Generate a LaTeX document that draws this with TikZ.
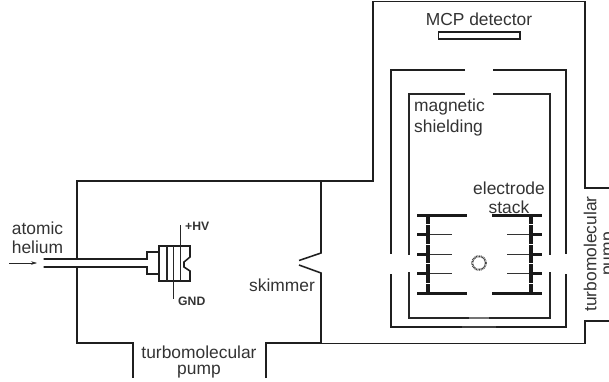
\documentclass[tikz,border=0pt]{standalone}
\usepackage{fontspec}
\usetikzlibrary{arrows.meta}
\setmainfont{Liberation Sans}
\tikzset{
  wall/.style={line width=1.55pt,color=black!88,line cap=butt,line join=miter},
  thin wall/.style={line width=1.25pt,color=black!85},
  plate/.style={line width=3pt,color=black!90},
  finger/.style={line width=0.8pt,color=black!80},
  lab/.style={font=\fontsize{17.4}{#1}\selectfont,align=center,inner sep=0pt,color=black!80},
  lab/.default=19,
  small lab/.style={font=\fontsize{12.2}{13}\selectfont\bfseries,inner sep=0pt,color=black!80},
}
\begin{document}
\begin{tikzpicture}[x=1pt,y=-1pt]
\useasboundingbox (0,0) rectangle (609,381);
% chamber
\draw[wall] (77,258.5) -- (77,181) -- (373,181) -- (373,1.5) -- (585,1.5) -- (585,188) -- (609,188);
\draw[wall] (77,267.5) -- (77,343) -- (133,343) -- (133,378);
\draw[wall] (266,378) -- (266,343) -- (321,343);
\draw[wall] (321,343.5) -- (585,343.5) -- (585,321) -- (609,321);
% skimmer
\draw[wall] (321,181) -- (321,253) -- (299,260.5);
\draw[wall] (299,265) -- (321,273) -- (321,343);
% detector
\draw[wall] (438.5,32) rectangle (520,39);
% outer shield
\draw[wall] (465,70) -- (391,70) -- (391,254);
\draw[wall] (493,70) -- (566,70) -- (566,254);
\draw[wall] (391,274) -- (391,327) -- (566,327) -- (566,274);
% inner shield
\draw[thin wall] (465,94) -- (409,94) -- (409,255);
\draw[thin wall] (493,94) -- (550,94) -- (550,255);
\draw[thin wall] (409,272) -- (409,318) -- (550,318) -- (550,272);
\draw[line width=2.2pt,color=black!75] (462,327) -- (496,327);
\draw[line width=1.8pt,color=black!55] (469,318) -- (489,318);
% electrode stack
\foreach \y in {215,293}{
  \draw[plate] (417,\y) -- (467,\y);
  \draw[plate] (492,\y) -- (542,\y);
}
\foreach \y in {234,254,273}{
  \draw[plate] (417,\y) -- (430,\y);
  \draw[finger] (430,\y) -- (452,\y);
  \draw[plate] (530,\y) -- (542,\y);
  \draw[finger] (507,\y) -- (530,\y);
}
\foreach \a/\b in {215/224,225/244,245/263,264/283,284/293}{
  \draw[line width=4.2pt,color=black!90] (428,\a) -- (428,\b);
  \draw[line width=4.2pt,color=black!90] (531,\a) -- (531,\b);
}
\draw[line width=2pt,color=black!75,dash pattern=on 0.9pt off 0.7pt] (479,263) circle (6.8);
% inlet
\draw[wall] (43.5,259) -- (147,259) -- (147,252) -- (159,252) -- (159,246) -- (190,246) -- (190,257) -- (184,262) -- (184,267) -- (190,271) -- (190,281) -- (159,281) -- (159,274) -- (147,274) -- (147,267) -- (43.5,267);
\draw[wall] (159,246) -- (159,281);
\draw[thin wall] (167,246) -- (167,281);
\draw[thin wall] (173.5,246) -- (173.5,299);
\draw[thin wall] (180.5,225) -- (180.5,281);
% arrow
\coordinate (arrowstart) at (9,263);
\coordinate (arrowend) at (37,263);
\draw[line width=0.5pt,color=black!85,-{Stealth[length=6pt,width=3.5pt]}] (arrowstart) -- (arrowend);
% labels
\node[lab=18.7] (heliumlab) at (37.5,238) {atomic\\helium};
\node[lab,anchor=base] (skimmerlab) at (282,291.7) {skimmer};
\node[lab=15.5] (pumpbottom) at (199,362) {turbomolecular\\pump};
\node[lab,anchor=base] (mcp) at (479,25) {MCP detector};
\node[lab=20.5,align=left,anchor=north west] (shield) at (414,99) {magnetic\\shielding};
\node[lab=19] (stack) at (509,198) {electrode\\stack};
\node[lab=16.5,rotate=90] (pumpright) at (600,254) {turbomolecular\\pump};
\node[small lab,anchor=west] (hv) at (185,226.5) {+HV};
\node[small lab,anchor=west] (gnd) at (178,301) {GND};
\end{tikzpicture}
\end{document}
